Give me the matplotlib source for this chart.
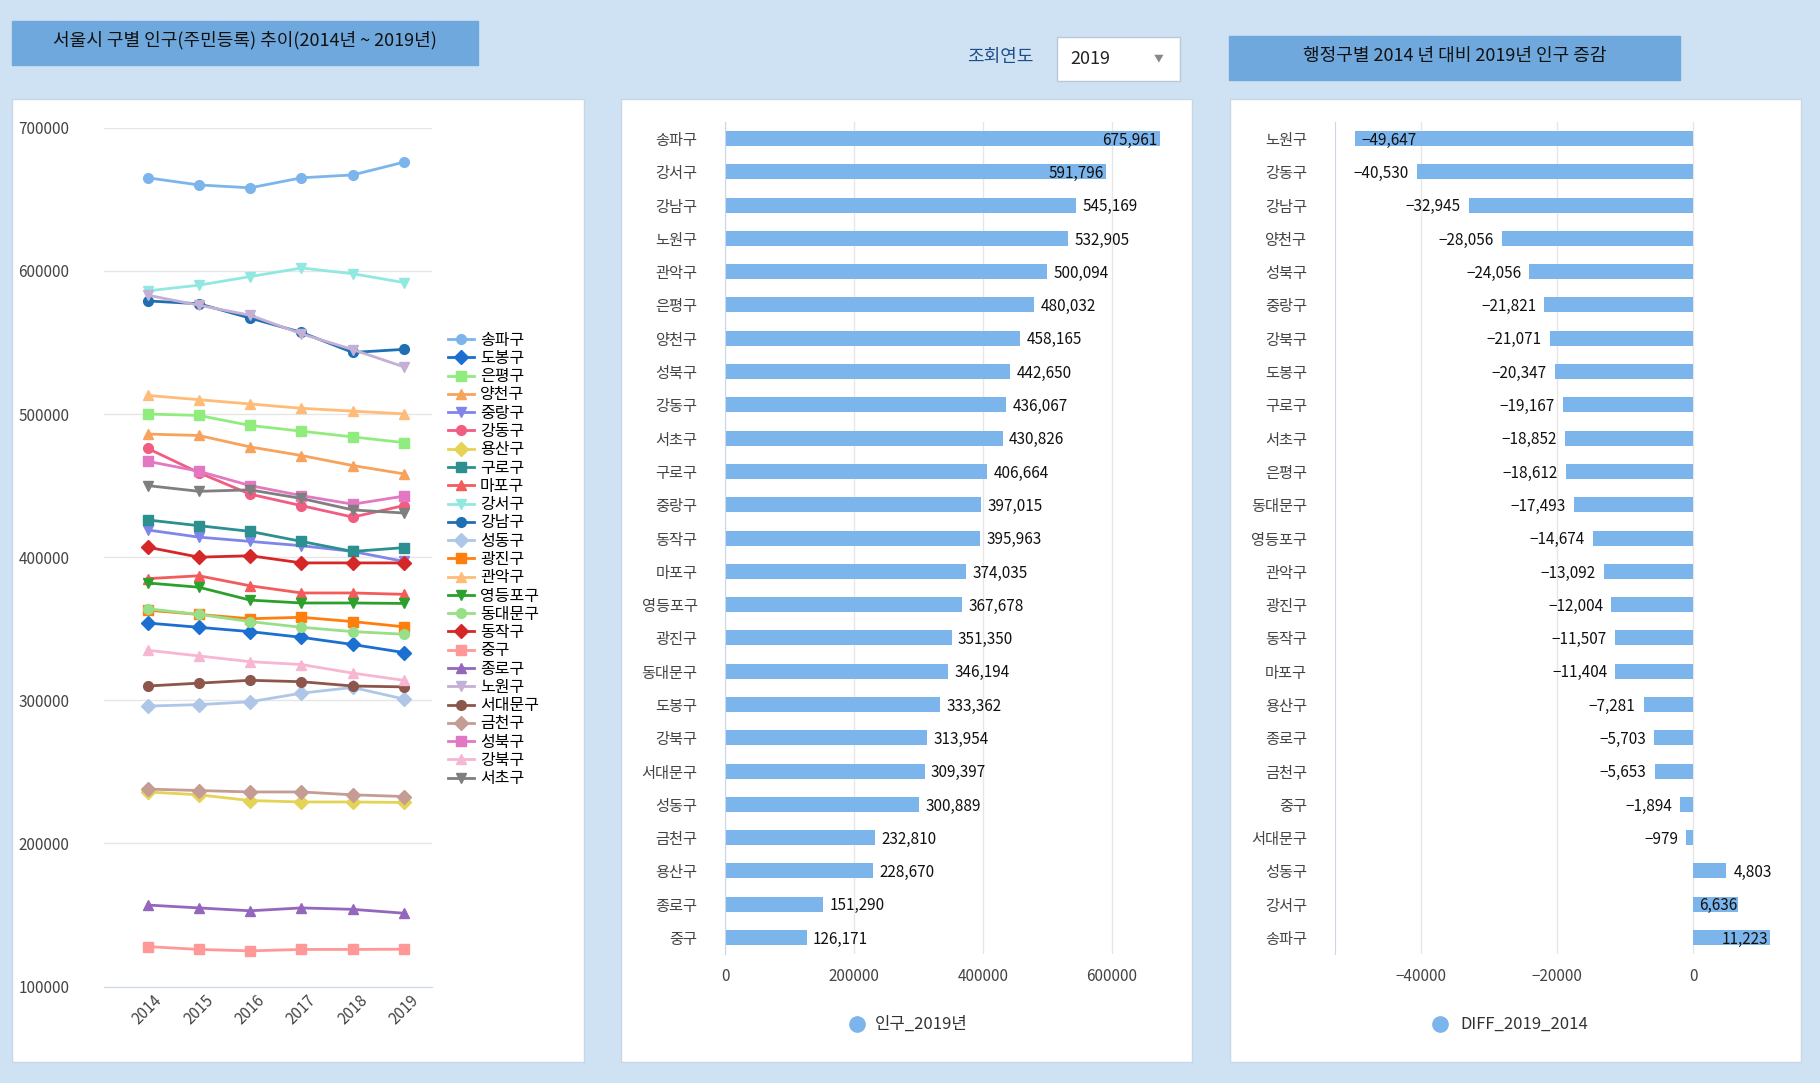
import matplotlib
matplotlib.use("Agg")
import matplotlib.pyplot as plt
from matplotlib.patches import Rectangle
from matplotlib.lines import Line2D

plt.rcParams['font.family'] = ['Noto Sans CJK KR', 'DejaVu Sans']

years = [2014, 2015, 2016, 2017, 2018, 2019]
series_names = ['송파구','도봉구','은평구','양천구','중랑구','강동구','용산구','구로구','마포구','강서구',
                '강남구','성동구','광진구','관악구','영등포구','동대문구','동작구','중구','종로구','노원구',
                '서대문구','금천구','성북구','강북구','서초구']
series_vals = {
 '송파구':[665000,660000,658000,665000,667000,675961],
 '도봉구':[354000,351000,348000,344000,339000,333362],
 '은평구':[500000,499000,492000,488000,484000,480032],
 '양천구':[486000,485000,477000,471000,464000,458165],
 '중랑구':[419000,414000,411000,408000,404000,397015],
 '강동구':[476000,459000,444000,436000,428000,436067],
 '용산구':[236000,234000,230000,229000,229000,228670],
 '구로구':[426000,422000,418000,411000,404000,406664],
 '마포구':[385000,387000,380000,375000,375000,374035],
 '강서구':[586000,590000,596000,602000,598000,591796],
 '강남구':[579000,577000,567000,557000,543000,545169],
 '성동구':[296000,297000,299000,305000,309000,300889],
 '광진구':[363000,360000,357000,358000,355000,351350],
 '관악구':[513000,510000,507000,504000,502000,500094],
 '영등포구':[382000,379000,370000,368000,368000,367678],
 '동대문구':[364000,360000,355000,351000,348000,346194],
 '동작구':[407000,400000,401000,396000,396000,395963],
 '중구':[128000,126000,125000,126000,126000,126171],
 '종로구':[157000,155000,153000,155000,154000,151290],
 '노원구':[583000,576000,569000,556000,545000,532905],
 '서대문구':[310000,312000,314000,313000,310000,309397],
 '금천구':[238000,237000,236000,236000,234000,232810],
 '성북구':[467000,460000,450000,443000,437000,442650],
 '강북구':[335000,331000,327000,325000,319000,313954],
 '서초구':[450000,446000,447000,441000,433000,430826],
}
colors = ['#7cb5ec','#1a6fd0','#90ed7d','#f7a35c','#8085e9','#f15c80','#e4d354','#2b908f','#f45b5b','#91e8e1',
          '#1f6fb4','#aec7e8','#ff7f0e','#ffbb78','#2ca02c','#98df8a','#d62728','#ff9896','#9467bd','#c5b0d5',
          '#8c564b','#c49c94','#e377c2','#f7b6d2','#7f7f7f']
markers = ['o','D','s','^','v']

pop_names = ['송파구','강서구','강남구','노원구','관악구','은평구','양천구','성북구','강동구','서초구','구로구','중랑구',
             '동작구','마포구','영등포구','광진구','동대문구','도봉구','강북구','서대문구','성동구','금천구','용산구','종로구','중구']
pop_vals = [675961,591796,545169,532905,500094,480032,458165,442650,436067,430826,406664,397015,
            395963,374035,367678,351350,346194,333362,313954,309397,300889,232810,228670,151290,126171]

diff_names = ['노원구','강동구','강남구','양천구','성북구','중랑구','강북구','도봉구','구로구','서초구','은평구','동대문구',
              '영등포구','관악구','광진구','동작구','마포구','용산구','종로구','금천구','중구','서대문구','성동구','강서구','송파구']
diff_vals = [-49647,-40530,-32945,-28056,-24056,-21821,-21071,-20347,-19167,-18852,-18612,-17493,
             -14674,-13092,-12004,-11507,-11404,-7281,-5703,-5653,-1894,-979,4803,6636,11223]

W, H = 1568, 933
fig = plt.figure(figsize=(18.2, 10.83), dpi=100)
fig.patch.set_facecolor('#cfe2f3')

def fx(x): return x / W
def fy(y): return 1 - y / H

def panel(x0, y0, x1, y1, color='white', ec='#c8d6e5'):
    fig.patches.append(Rectangle((fx(x0), fy(y1)), fx(x1) - fx(x0), fy(y0) - fy(y1),
                                 transform=fig.transFigure, facecolor=color, edgecolor=ec, lw=1, zorder=-5))

panel(10, 85, 503, 915)
panel(535, 85, 1027, 915)
panel(1060, 85, 1552, 915)
panel(10, 18, 412, 56, color='#6fa8dc', ec='#6fa8dc')
fig.text(fx(211), fy(35), '서울시 구별 인구(주민등록) 추이(2014년 ~ 2019년)', ha='center', va='center', fontsize=13, color='#111')
panel(1059, 31, 1447, 69, color='#6fa8dc', ec='#6fa8dc')
fig.text(fx(1253), fy(48), '행정구별 2014 년 대비 2019년 인구 증감', ha='center', va='center', fontsize=13, color='#111')
fig.text(fx(862), fy(49), '조회연도', ha='center', va='center', fontsize=13, color='#1a4f8a')
panel(911, 32, 1017, 70, color='white', ec='#b8c8d8')
fig.text(fx(922), fy(51), '2019', ha='left', va='center', fontsize=13, color='#222')
fig.text(fx(998), fy(50), '▼', ha='center', va='center', fontsize=7, color='#888')

def style_axes(ax):
    ax.set_facecolor('none')
    ax.set_zorder(2)

# Line chart
ax1 = fig.add_axes([fx(90), fy(850), fx(372) - fx(90), fy(110) - fy(850)])
style_axes(ax1)
for i, n in enumerate(series_names):
    ax1.plot(years, series_vals[n], color=colors[i], marker=markers[i % 5], ms=7, lw=2, label=n)
ax1.set_xlim(2013.16, 2019.54)
ax1.set_ylim(100000, 700000)
ax1.set_yticks(range(100000, 700001, 100000))
ax1.set_xticks(years)
ax1.tick_params(axis='x', rotation=45, labelsize=11, colors='#444', length=0)
ax1.tick_params(axis='y', labelsize=11, colors='#444', length=0, pad=62)
for t in ax1.get_yticklabels(): t.set_ha('left')
ax1.grid(axis='y', color='#e6e6e6', lw=1)
for s in ['top', 'right', 'left']: ax1.spines[s].set_visible(False)
ax1.spines['bottom'].set_color('#ccd6eb')
ax1.set_axisbelow(True)
ax1.legend(loc='upper left', bbox_to_anchor=(1.03, 0.77), frameon=False, fontsize=11.5,
           handlelength=1.6, labelspacing=0.08, handletextpad=0.4, borderaxespad=0)

bar_color = '#7cb5ec'

# Bar chart 2
ax2 = fig.add_axes([fx(625), fy(822), fx(1002) - fx(625), fy(105) - fy(822)])
style_axes(ax2)
ypos = list(range(len(pop_names)))
ax2.barh(ypos, pop_vals, height=0.45, color=bar_color)
ax2.set_ylim(len(pop_names) - 0.5, -0.5)
ax2.set_xlim(0, 680000)
ax2.set_yticks(ypos)
ax2.set_yticklabels(pop_names)
ax2.set_xticks([0, 200000, 400000, 600000])
ax2.tick_params(axis='y', labelsize=11, colors='#444', length=0, pad=20)
ax2.tick_params(axis='x', labelsize=11, colors='#444', length=0, pad=10)
ax2.grid(axis='x', color='#e6e6e6', lw=1)
ax2.set_axisbelow(True)
for s in ['top', 'right', 'bottom']: ax2.spines[s].set_visible(False)
ax2.spines['left'].set_color('#ccd6eb')
for y, v in zip(ypos, pop_vals):
    if v > 560000:
        ax2.text(v - 4000, y + 0.05, f'{v:,}', ha='right', va='center', fontsize=11, color='#111')
    else:
        ax2.text(v + 10000, y + 0.05, f'{v:,}', ha='left', va='center', fontsize=11, color='#111')
fig.add_artist(Line2D([fx(738)], [fy(882)], marker='o', ms=11, color=bar_color, transform=fig.transFigure))
fig.text(fx(754), fy(882), '인구_2019년', ha='left', va='center', fontsize=12, color='#333')

# Bar chart 3
ax3 = fig.add_axes([fx(1150), fy(822), fx(1535) - fx(1150), fy(105) - fy(822)])
style_axes(ax3)
ax3.barh(ypos, diff_vals, height=0.45, color=bar_color)
ax3.set_ylim(len(diff_names) - 0.5, -0.5)
ax3.set_xlim(-52600, 13000)
ax3.set_yticks(ypos)
ax3.set_yticklabels(diff_names)
ax3.set_xticks([-40000, -20000, 0])
ax3.tick_params(axis='y', labelsize=11, colors='#444', length=0, pad=20)
ax3.tick_params(axis='x', labelsize=11, colors='#444', length=0, pad=10)
ax3.grid(axis='x', color='#e6e6e6', lw=1)
ax3.set_axisbelow(True)
for s in ['top', 'right', 'bottom']: ax3.spines[s].set_visible(False)
ax3.spines['left'].set_color('#ccd6eb')
for y, v in zip(ypos, diff_vals):
    lab = f'{v:,}'.replace('-', '−')
    if v < -45000:
        ax3.text(v + 1000, y + 0.05, lab, ha='left', va='center', fontsize=11, color='#111')
    elif v < 0:
        ax3.text(v - 1200, y + 0.05, lab, ha='right', va='center', fontsize=11, color='#111')
    elif v > 6000:
        ax3.text(v - 200, y + 0.05, lab, ha='right', va='center', fontsize=11, color='#111')
    else:
        ax3.text(v + 1200, y + 0.05, lab, ha='left', va='center', fontsize=11, color='#111')
fig.add_artist(Line2D([fx(1241)], [fy(882)], marker='o', ms=11, color=bar_color, transform=fig.transFigure))
fig.text(fx(1258), fy(882), 'DIFF_2019_2014', ha='left', va='center', fontsize=12, color='#333')

fig.savefig('out.png', dpi=100, facecolor=fig.get_facecolor())
